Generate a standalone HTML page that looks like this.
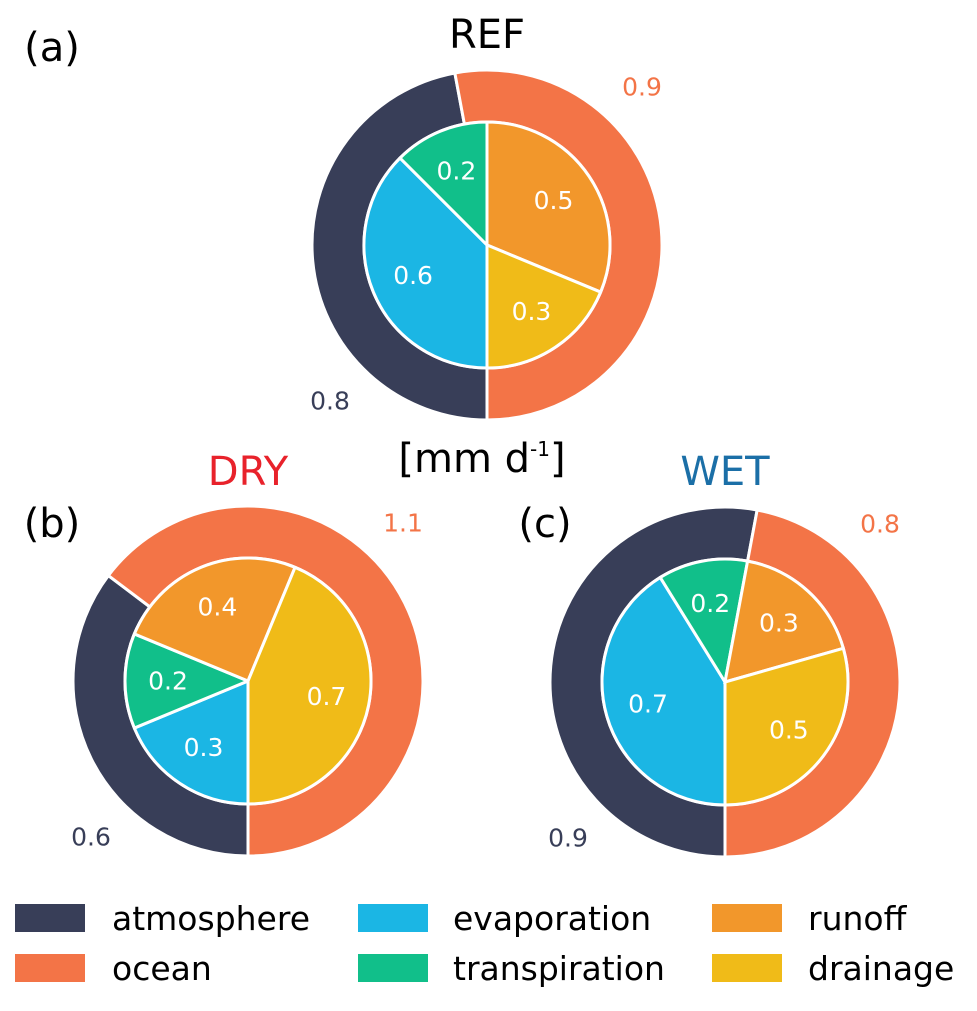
<!DOCTYPE html>
<html><head><meta charset="utf-8"><style>
body{margin:0;background:#fff}
svg text{font-family:"DejaVu Sans","Liberation Sans",sans-serif}
</style></head><body>
<svg id="chart" width="977" height="1006" viewBox="0 0 977 1006" xmlns="http://www.w3.org/2000/svg">
<g id="plots"></g>
<text x="52" y="61" font-size="40" text-anchor="middle">(a)</text>
<text x="52" y="537" font-size="40" text-anchor="middle">(b)</text>
<text x="545" y="537" font-size="40" text-anchor="middle">(c)</text>
<text x="487" y="48" font-size="40" text-anchor="middle">REF</text>
<text x="248" y="485" font-size="40" text-anchor="middle" fill="#e8222b">DRY</text>
<text x="725" y="485" font-size="40" text-anchor="middle" fill="#1b6fa7">WET</text>
<text x="482" y="472" font-size="40" text-anchor="middle">[mm d<tspan font-size="20" dy="-16">-1</tspan><tspan dy="16">]</tspan></text>
<g>
<rect x="15" y="904" width="70" height="28" fill="#383e58"/>
<text x="112" y="930" font-size="33">atmosphere</text>
<rect x="15" y="954" width="70" height="28" fill="#f37447"/>
<text x="112" y="980" font-size="33">ocean</text>
<rect x="358" y="904" width="70" height="28" fill="#1bb6e4"/>
<text x="453" y="930" font-size="33">evaporation</text>
<rect x="358" y="954" width="70" height="28" fill="#11bf8a"/>
<text x="453" y="980" font-size="33">transpiration</text>
<rect x="712" y="904" width="70" height="28" fill="#f2972b"/>
<text x="808" y="930" font-size="33">runoff</text>
<rect x="712" y="954" width="70" height="28" fill="#f0bb18"/>
<text x="808" y="980" font-size="33">drainage</text>
</g>
</svg>
<script>
const scenarios = ["REF","DRY","WET"];
const outerCategories = ["atmosphere","ocean"];
const innerCategories = ["evaporation","transpiration","runoff","drainage"];
const atmosphereValues = [0.8, 0.6, 0.9];
const oceanValues = [0.9, 1.1, 0.8];
const evaporationValues = [0.6, 0.3, 0.7];
const transpirationValues = [0.2, 0.2, 0.2];
const runoffValues = [0.5, 0.4, 0.3];
const drainageValues = [0.3, 0.7, 0.5];

const outerColors = ["#383e58","#f37447"];
const innerColors = ["#1bb6e4","#11bf8a","#f2972b","#f0bb18"];
const centers = [[487,245],[248,681],[725,682]];
const R = 175, RI = 123;
const NS = "http://www.w3.org/2000/svg";
const g = document.getElementById("plots");

function pt(cx, cy, r, a){
  const m = (270 - a) * Math.PI / 180;
  return [cx + r*Math.cos(m), cy - r*Math.sin(m)];
}
function wedge(cx, cy, r0, r1, a0, a1){
  const large = (a1 - a0) > 180 ? 1 : 0;
  const p0 = pt(cx,cy,r1,a0), p1 = pt(cx,cy,r1,a1);
  let d = `M${p0[0]},${p0[1]} A${r1},${r1} 0 ${large} 1 ${p1[0]},${p1[1]}`;
  if (r0 > 0){
    const q1 = pt(cx,cy,r0,a1), q0 = pt(cx,cy,r0,a0);
    d += ` L${q1[0]},${q1[1]} A${r0},${r0} 0 ${large} 0 ${q0[0]},${q0[1]} Z`;
  } else d += ` L${cx},${cy} Z`;
  return d;
}
function txt(x, y, s, size, fill){
  const t = document.createElementNS(NS,"text");
  t.setAttribute("x", x); t.setAttribute("y", y);
  t.setAttribute("font-size", size); t.setAttribute("fill", fill);
  t.setAttribute("text-anchor","middle"); t.setAttribute("dominant-baseline","central");
  t.textContent = s;
  return t;
}
scenarios.forEach((sc, i) => {
  const [cx, cy] = centers[i];
  const grp = document.createElementNS(NS,"g");
  
  
  g.appendChild(grp);
  const outer = [atmosphereValues[i], oceanValues[i]];
  const inner = [evaporationValues[i], transpirationValues[i], runoffValues[i], drainageValues[i]];
  const draw = (vals, cats, cols, r0, r1, labelR) => {
    const tot = vals.reduce((a,b)=>a+b,0);
    let a = 0;
    vals.forEach((v, k) => {
      const span = v / tot * 360;
      const p = document.createElementNS(NS,"path");
      p.setAttribute("d", wedge(cx,cy,r0,r1,a,a+span));
      p.setAttribute("fill", cols[k]);
      p.setAttribute("stroke","#fff"); p.setAttribute("stroke-width","3");
      
      
      grp.appendChild(p);
      if (labelR){
        const [lx, ly] = pt(cx,cy,labelR,a+span/2);
        const t = txt(lx, ly, v.toFixed(1), 25, "#fff");
        
        
        grp.appendChild(t);
      }
      a += span;
    });
  };
  draw(outer, outerCategories, outerColors, RI, R, 0);
  draw(inner, innerCategories, innerColors, 0, RI, 80);
  const ta = txt(cx - 157, cy + 156, atmosphereValues[i].toFixed(1), 25, "#383e58");
  
  
  grp.appendChild(ta);
  const to = txt(cx + 155, cy - 158, oceanValues[i].toFixed(1), 25, "#f37447");
  
  
  grp.appendChild(to);
});
</script>
</body></html>
